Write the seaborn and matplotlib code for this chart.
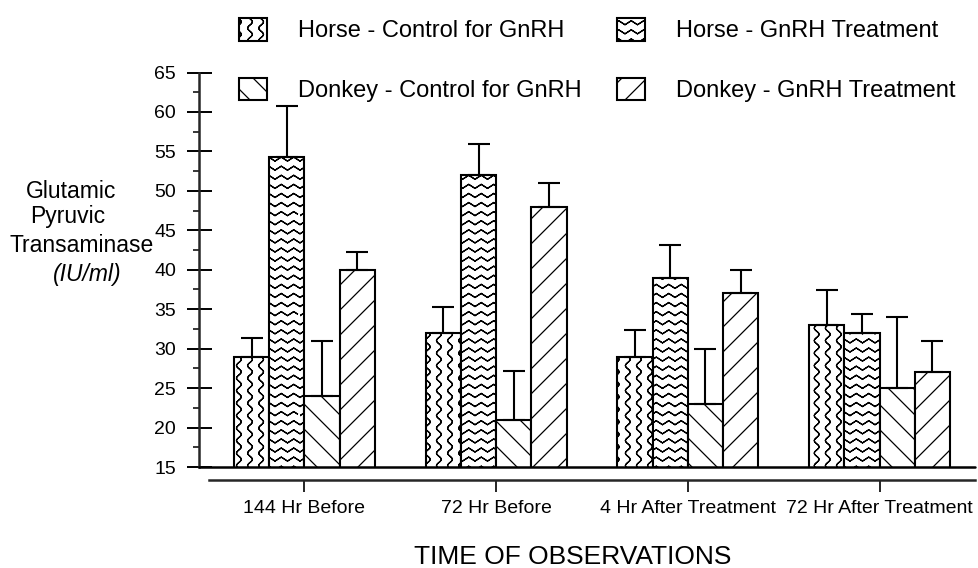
import warnings
import numpy as np
import pandas as pd
import seaborn as sns
import matplotlib
matplotlib.use("Agg")
import matplotlib.pyplot as plt
import matplotlib.hatch as mhatch
from matplotlib.path import Path
from matplotlib.patches import Patch
from matplotlib.ticker import MultipleLocator

warnings.filterwarnings("ignore")

# data
times = ["144 Hr Before", "72 Hr Before", "4 Hr After Treatment", "72 Hr After Treatment"]
groups = ["Horse - Control for GnRH", "Horse - GnRH Treatment",
          "Donkey - Control for GnRH", "Donkey - GnRH Treatment"]

horse_ctrl = [29, 32, 29, 33]
horse_gnrh = [54.3, 52, 39, 32]
donkey_ctrl = [24, 21, 23, 25]
donkey_gnrh = [40, 48, 37, 27]

horse_ctrl_err = [2.4, 3.3, 3.4, 4.4]
horse_gnrh_err = [6.4, 4.0, 4.2, 2.4]
donkey_ctrl_err = [7.0, 6.2, 7.0, 9.0]
donkey_gnrh_err = [2.2, 3.0, 3.0, 4.0]

values = [horse_ctrl, horse_gnrh, donkey_ctrl, donkey_gnrh]
errors = [horse_ctrl_err, horse_gnrh_err, donkey_ctrl_err, donkey_gnrh_err]


# extra hatch patterns: 'w' wavy vertical, 'z' zigzag horizontal,
# 'd' / diagonal, 'b' \ diagonal (a bit denser than the built-in ones).
# Agg also fills hatch paths, so the curvy lines run out and back on themselves.
class OldPrintHatch(mhatch.HatchPatternBase):
    def __init__(self, hatch, density):
        self.kind = None
        for ch in "wzdb":
            if ch in hatch:
                self.kind = ch
        if self.kind == "w":
            self.n, self.pts = 9, 97
        elif self.kind == "z":
            self.n, self.pts = 11, 17
        elif self.kind in ("d", "b"):
            self.n, self.pts = 8, 2
        else:
            self.n, self.pts = 0, 0
        if self.kind in ("d", "b"):
            self.num_lines, self.per_line = self.n + 1, 2
        else:
            self.num_lines, self.per_line = self.n, max(2 * self.pts - 1, 0)
        self.num_vertices = self.num_lines * self.per_line

    def set_vertices_and_codes(self, vertices, codes):
        p = self.pts
        k = self.per_line
        for i in range(self.num_lines):
            sl = slice(i * k, (i + 1) * k)
            if self.kind in ("w", "z"):
                t = np.linspace(0, 1, p)
                if self.kind == "w":
                    xs = (i + 0.5) / self.n + 0.024 * np.sin(2 * np.pi * 8 * t)
                    ys = t
                else:
                    xs = t
                    ys = (i + 0.5) / self.n + np.where(np.arange(p) % 2 == 0, -0.02, 0.02)
                vertices[sl, 0] = np.concatenate([xs, xs[-2::-1]])
                vertices[sl, 1] = np.concatenate([ys, ys[-2::-1]])
            else:
                s = -0.5 + i / self.n
                if self.kind == "d":
                    vertices[sl] = [[0 + s, 0 - s], [1 + s, 1 - s]]
                else:
                    vertices[sl] = [[0 + s, 1 + s], [1 + s, 0 + s]]
            codes[sl] = Path.LINETO
            codes[i * k] = Path.MOVETO


mhatch._hatch_types.append(OldPrintHatch)
hatches = ["w", "z", "b", "d"]

sns.set_style("ticks")
plt.rcParams["font.family"] = ["Liberation Sans", "DejaVu Sans"]
plt.rcParams["text.color"] = "black"
plt.rcParams["xtick.color"] = "black"
plt.rcParams["ytick.color"] = "black"
plt.rcParams["hatch.linewidth"] = 0.9
plt.rcParams["hatch.color"] = "black"

df = pd.DataFrame({
    "time": np.tile(times, len(groups)),
    "group": np.repeat(groups, len(times)),
    "value": np.concatenate(values),
})

fig = plt.figure(figsize=(9.79, 5.68), dpi=100)
ax = fig.add_axes([199 / 979, 101 / 568, 776 / 979, 394.5 / 568])

sns.barplot(data=df, x="time", y="value", hue="group", order=times, hue_order=groups,
            palette=["white"] * 4, saturation=1, edgecolor="black", linewidth=1.5,
            width=0.735, errorbar=None, legend=False, ax=ax)

for container, hatch, vals, errs in zip(ax.containers, hatches, values, errors):
    xs = []
    for bar in container:
        bar.set_hatch(hatch)
        xs.append(bar.get_x() + bar.get_width() / 2)
    ax.errorbar(xs, vals, yerr=[np.zeros(len(errs)), errs], fmt="none",
                ecolor="black", elinewidth=1.5, capsize=8, capthick=1.5, zorder=1)

ax.set_ylim(15, 65)
ax.set_xlim(-0.550, 3.498)
ax.set_yticks(range(15, 70, 5))
ax.yaxis.set_minor_locator(MultipleLocator(2.5))
ax.axhline(15, color="black", lw=1.8, clip_on=False, zorder=5)

sns.despine(ax=ax)
ax.spines["left"].set_bounds(15, 65)
ax.spines["left"].set_linewidth(1.8)
ax.spines["bottom"].set_position(("outward", 9))
ax.spines["bottom"].set_bounds(-0.5, 3.498)
ax.spines["bottom"].set_linewidth(1.8)

ax.tick_params(axis="y", which="major", direction="inout", length=18, width=1.4,
               labelsize=14, pad=7.5)
ax.tick_params(axis="y", which="minor", direction="out", length=4.3, width=1.1)
ax.tick_params(axis="x", direction="out", length=8.5, width=1.2, labelsize=14, pad=6)
ax.set_xlabel("")
ax.set_ylabel("")

# y label, line by line like the original
H = 568
fig.text(71 / 979, (H - 198) / H, "Glutamic", ha="center", va="baseline", fontsize=16.5)
fig.text(67.5 / 979, (H - 223) / H, "Pyruvic", ha="center", va="baseline", fontsize=16.5)
fig.text(82 / 979, (H - 252) / H, "Transaminase", ha="center", va="baseline", fontsize=16.5)
fig.text(87 / 979, (H - 281) / H, "(IU/ml)", ha="center", va="baseline", fontsize=16.5,
         style="italic")
fig.text(573 / 979, (H - 564) / H, "TIME OF OBSERVATIONS", ha="center", va="baseline",
         fontsize=19)

handles = [Patch(facecolor="white", edgecolor="black", hatch=h, linewidth=1.5) for h in hatches]
order = [0, 2, 1, 3]
fig.legend([handles[i] for i in order], [groups[i] for i in order], ncol=2,
           loc="upper left", bbox_to_anchor=(239 / 979, (H - 18) / H), frameon=False,
           fontsize=17, handlelength=1.2, handleheight=1.1, handletextpad=1.3,
           columnspacing=1.5, labelspacing=1.49, borderpad=0, borderaxespad=0)

fig.savefig("out.png", dpi=100)
